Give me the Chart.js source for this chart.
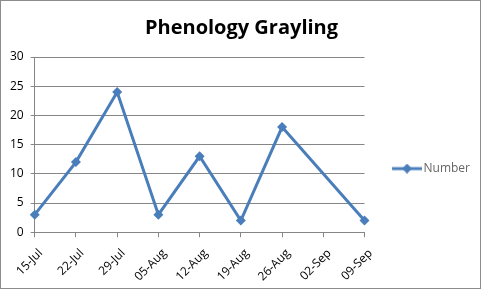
<!DOCTYPE html>
<html>
<head>
<meta charset="utf-8">
<script src="https://cdn.jsdelivr.net/npm/chart.js@4/dist/chart.umd.min.js"></script>
<style>
  html, body { margin: 0; padding: 0; background: #fff; }
  #wrap { width: 479px; height: 287px; border: 1px solid #8c8c8c; }
</style>
</head>
<body>
<div id="wrap"><canvas id="chart" width="479" height="287"></canvas></div>
<script>
const dates = ['15-Jul', '22-Jul', '29-Jul', '05-Aug', '12-Aug', '19-Aug', '26-Aug', '02-Sep', '09-Sep'];
const numbers = [3, 12, 24, 3, 13, 2, 18, null, 2];
const yTicks = [0, 5, 10, 15, 20, 25, 30];

const blue = '#4a7ebb';
const gray = '#868686';
const font = "'Open Sans', sans-serif";

// legend marker: blank space on the left, then a short line with a diamond
function legendIcon() {
  const c = document.createElement('canvas');
  c.width = 60; c.height = 10;
  const g = c.getContext('2d');
  g.strokeStyle = blue; g.lineWidth = 3;
  g.beginPath(); g.moveTo(30, 5); g.lineTo(60, 5); g.stroke();
  g.fillStyle = blue;
  g.beginPath(); g.moveTo(45, 0); g.lineTo(50, 5); g.lineTo(45, 10); g.lineTo(40, 5); g.closePath(); g.fill();
  return c;
}

new Chart(document.getElementById('chart'), {
  type: 'line',
  data: {
    labels: dates,
    datasets: [{
      label: 'Number',
      data: numbers,
      borderColor: blue,
      backgroundColor: blue,
      borderWidth: 3,
      pointStyle: 'rectRot',
      pointRadius: 5,
      pointBorderWidth: 0,
      spanGaps: true,
      tension: 0
    }]
  },
  options: {
    responsive: false,
    animation: false,
    layout: { padding: { top: 2, right: 0, bottom: -5, left: 2 } },
    plugins: {
      title: {
        display: true,
        text: 'Phenology Grayling',
        color: '#000',
        font: { size: 20, weight: 'bold', family: font },
        padding: { top: 13, bottom: 17 }
      },
      legend: {
        position: 'right',
        title: { display: true, text: ' ', font: { size: 11 }, padding: { top: 28, bottom: 0 } },
        labels: {
          usePointStyle: true,
          pointStyleWidth: 51,
          color: '#000',
          font: { size: 12, family: font },
          padding: 2,
          generateLabels: chart => [{
            text: 'Number',
            pointStyle: legendIcon(),
            fillStyle: blue,
            strokeStyle: blue,
            lineWidth: 0,
            datasetIndex: 0
          }]
        }
      },
      tooltip: { enabled: false }
    },
    scales: {
      x: {
        offset: false,
        grid: { drawOnChartArea: false, drawTicks: true, tickLength: 5, color: gray },
        border: { color: gray },
        ticks: {
          color: '#000',
          font: { size: 12, family: font },
          minRotation: 45,
          maxRotation: 45,
          labelOffset: 6,
          padding: 9
        }
      },
      y: {
        min: 0,
        max: 30,
        afterBuildTicks: axis => { axis.ticks = yTicks.map(v => ({ value: v })); },
        grid: { color: gray, tickLength: 4 },
        border: { color: gray },
        ticks: {
          color: '#000',
          font: { size: 12, family: font },
          padding: 7
        }
      }
    }
  }
});
</script>
</body>
</html>
